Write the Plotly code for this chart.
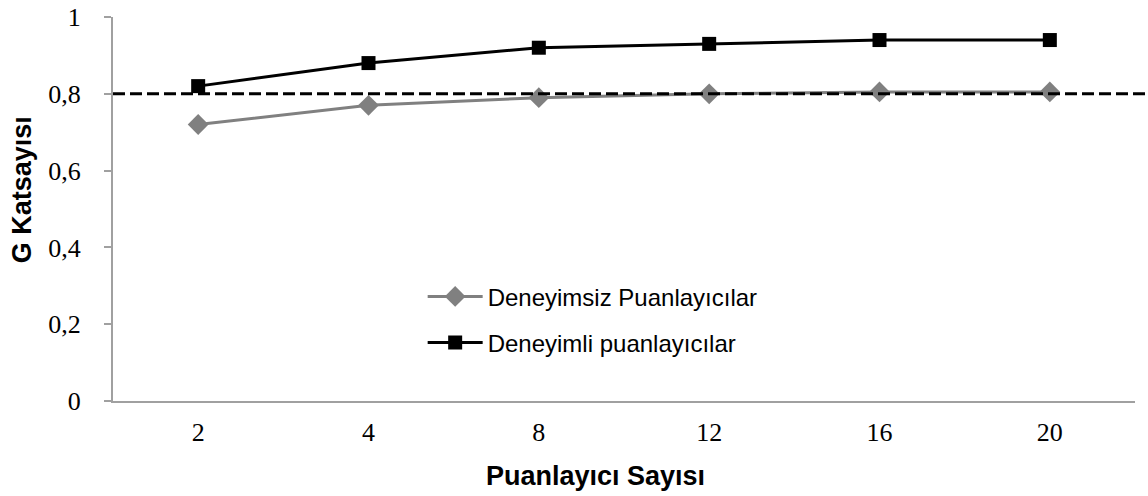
import plotly.graph_objects as go

categories = ["2", "4", "8", "12", "16", "20"]
deneyimsiz = [0.72, 0.77, 0.79, 0.80, 0.805, 0.805]
deneyimli = [0.82, 0.88, 0.92, 0.93, 0.94, 0.94]
threshold = 0.8
y_ticks = [0, 0.2, 0.4, 0.6, 0.8, 1.0]
y_ticklabels = ["0", "0,2", "0,4", "0,6", "0,8", "1"]

fig = go.Figure()
fig.add_trace(go.Scatter(
    x=categories, y=deneyimsiz, mode="lines+markers",
    name="Deneyimsiz Puanlayıcılar", legendgroup="a",
    line=dict(color="#808080", width=3),
    marker=dict(symbol="diamond", size=16, color="#808080"),
))
fig.add_trace(go.Scatter(
    x=categories, y=deneyimli, mode="lines+markers",
    name="Deneyimli puanlayıcılar", legendgroup="b",
    line=dict(color="#000000", width=3),
    marker=dict(symbol="square", size=14, color="#000000"),
))

fig.add_shape(type="line", xref="paper", yref="y", x0=0, x1=1.013,
              y0=threshold, y1=threshold,
              line=dict(color="black", width=3, dash="12px,5px"), layer="above")

title_font = dict(family="Liberation Sans, Arial", size=27, color="black")
fig.add_annotation(text="<b>G Katsayısı</b>", xref="paper", yref="paper",
                   x=-0.089, y=0.549, textangle=-90, showarrow=False,
                   xanchor="center", yanchor="middle", font=title_font)
fig.add_annotation(text="<b>Puanlayıcı Sayısı</b>", xref="paper", yref="paper",
                   x=0.4726, y=-0.195, showarrow=False,
                   xanchor="center", yanchor="middle", font=title_font)

fig.update_layout(
    width=1148, height=496,
    margin=dict(l=113, r=13, t=17, b=95),
    plot_bgcolor="white", paper_bgcolor="white",
    showlegend=True,
    legend=dict(x=0.303, y=0.33, xanchor="left", yanchor="top",
                font=dict(family="Liberation Sans, Arial", size=24, color="black"),
                bgcolor="rgba(0,0,0,0)", itemwidth=55, tracegroupgap=12),
    xaxis=dict(
        type="category", range=[-0.5, 5.5], showgrid=False, showline=True,
        linecolor="#a0a0a0", linewidth=2, ticks="", zeroline=False, automargin=False,
        ticklabelstandoff=7,
        tickfont=dict(family="Liberation Serif, Times New Roman", size=26, color="black"),
    ),
    yaxis=dict(
        range=[0, 1], tickvals=y_ticks, ticktext=y_ticklabels,
        showgrid=False, showline=True, linecolor="#a0a0a0", linewidth=2,
        ticks="outside", ticklen=7, tickcolor="#a0a0a0", tickwidth=1.5,
        zeroline=False, automargin=False, ticklabelstandoff=18,
        tickfont=dict(family="Liberation Serif, Times New Roman", size=26, color="black"),
    ),
)

fig.write_html("out.html", config={"displayModeBar": False},
               post_script="document.body.style.margin='0';document.body.style.overflow='hidden';")
